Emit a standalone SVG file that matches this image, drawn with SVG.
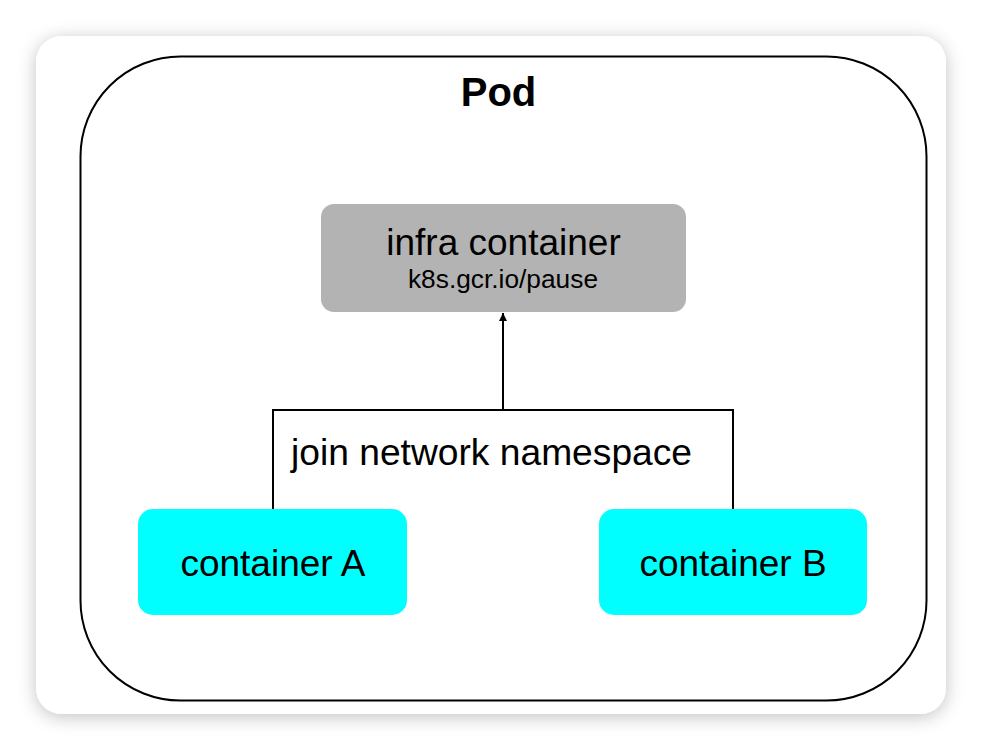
<svg xmlns="http://www.w3.org/2000/svg" width="982" height="750" viewBox="0 0 982 750">
<defs>
<filter id="shadow" x="-10%" y="-10%" width="120%" height="120%">
<feDropShadow dx="0" dy="3" stdDeviation="9" flood-color="#000" flood-opacity="0.24"/>
</filter>
<marker id="arrow" viewBox="0 0 8 12" refX="8" refY="6" markerWidth="9" markerHeight="12" markerUnits="userSpaceOnUse" orient="auto">
<path d="M0,2 L8,6 L0,10 Z" fill="#000"/>
</marker>
<style>
text{font-family:"Liberation Sans",Arial,sans-serif;fill:#000}
.lbl{font-size:37px;text-anchor:middle}
.conn{fill:none;stroke:#000;stroke-width:2}
</style>
</defs>
<rect x="0" y="0" width="982" height="750" fill="#fff"/>
<rect x="36" y="36" width="910" height="678" rx="26" ry="26" fill="#fff" filter="url(#shadow)"/>
<g id="pod">
<rect x="80.5" y="56.5" width="846" height="644" rx="100" ry="100" fill="#fff" stroke="#000" stroke-width="2"/>
<text x="498.5" y="106" style="font-size:40px;font-weight:bold;text-anchor:middle">Pod</text>
</g>
<g id="infra">
<rect x="321" y="204" width="365" height="108" rx="13" ry="13" fill="#b3b3b3"/>
<text class="lbl" x="503.5" y="255">infra container</text>
<text x="503" y="288" style="font-size:26.3px;text-anchor:middle">k8s.gcr.io/pause</text>
</g>
<g id="connectors">
<polyline class="conn" points="273,509 273,410 733,410 733,509"/>
<line class="conn" x1="503" y1="410" x2="503" y2="313" marker-end="url(#arrow)"/>
<text x="291" y="465" style="font-size:37.2px">join network namespace</text>
</g>
<g id="containerA">
<rect x="138" y="509" width="269" height="106" rx="15" ry="15" fill="#00ffff"/>
<text class="lbl" x="273" y="576">container A</text>
</g>
<g id="containerB">
<rect x="599" y="509" width="268" height="106" rx="15" ry="15" fill="#00ffff"/>
<text class="lbl" x="733" y="576">container B</text>
</g>
</svg>
